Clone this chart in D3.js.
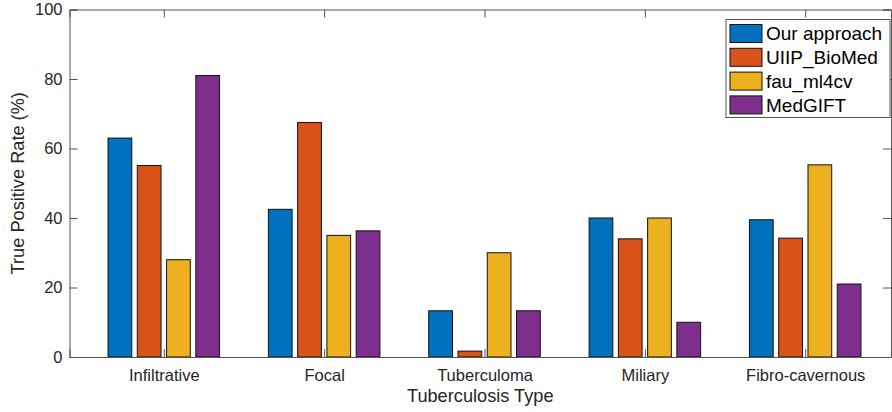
<!DOCTYPE html>
<html>
<head>
<meta charset="utf-8">
<script src="https://cdn.jsdelivr.net/npm/d3@7"></script>
<style>
  body { margin: 0; background: #fff; }
  svg { display: block; font-family: "Liberation Sans", Arial, sans-serif; }
</style>
</head>
<body>
<svg width="892" height="412"></svg>
<script>
// data
var categories = ["Infiltrative", "Focal", "Tuberculoma", "Miliary", "Fibro-cavernous"];
var methods = ["Our approach", "UIIP_BioMed", "fau_ml4cv", "MedGIFT"];
var ourApproach = [63.0, 42.5, 13.3, 40.0, 39.5];
var uiipBioMed  = [55.1, 67.5, 1.7, 34.0, 34.2];
var fauMl4cv    = [28.0, 35.0, 30.0, 40.0, 55.3];
var medGift     = [81.0, 36.3, 13.3, 10.0, 21.0];
var yTicks = [0, 20, 40, 60, 80, 100];
var colors = ["#0072BD", "#D95319", "#EDB120", "#7E2F8E"];

var series = [ourApproach, uiipBioMed, fauMl4cv, medGift];

var svg = d3.select("svg");
var pLeft = 69.5, pRight = 891, pTop = 9.5, pBottom = 357;

var x = d3.scaleLinear().domain([0.412, 5.535]).range([pLeft, pRight]);
var y = d3.scaleLinear().domain([0, 100]).range([pBottom, pTop]);

var step = 0.1825, barW = 0.148;

// bars
series.forEach(function(vals, j) {
  svg.append("g").selectAll("rect")
    .data(vals)
    .enter().append("rect")
    .attr("x", function(d, i) { return x(i + 1 + (j - 1.5) * step - barW / 2); })
    .attr("width", function(d, i) { return x(i + 1 + barW / 2) - x(i + 1 - barW / 2); })
    .attr("y", function(d) { return y(d); })
    .attr("height", function(d) { return y(0) - y(d); })
    .style("fill", colors[j])
    .style("stroke", "#111")
    .style("stroke-width", 1);
});

var axisColor = "#555";

// axes
var yAxis = d3.axisLeft(y).tickValues(yTicks).tickSize(-8).tickPadding(7);
var gy = svg.append("g").attr("transform", "translate(" + pLeft + ",0)").call(yAxis);
var yRight = d3.axisRight(y).tickValues(yTicks).tickSize(-8).tickFormat("");
var gyr = svg.append("g").attr("transform", "translate(" + pRight + ",0)").call(yRight);

var xIdx = d3.range(1, categories.length + 1);
var xAxis = d3.axisBottom(x).tickValues(xIdx).tickSize(-8).tickPadding(19)
  .tickFormat(function(d) { return categories[d - 1]; });
var gx = svg.append("g").attr("transform", "translate(0," + pBottom + ")").call(xAxis);
var xTop = d3.axisTop(x).tickValues(xIdx).tickSize(-8).tickFormat("");
var gxt = svg.append("g").attr("transform", "translate(0," + pTop + ")").call(xTop);

[gy, gyr, gx, gxt].forEach(function(g) {
  g.select(".domain").attr("stroke", axisColor).attr("stroke-width", 1);
  g.selectAll(".tick line").attr("stroke", axisColor).attr("stroke-width", 1);
  g.selectAll(".tick text").attr("fill", "#262626").style("font-size", "16.5px")
    .style("font-family", "'Liberation Sans', Arial, sans-serif");
});
gx.selectAll(".tick text").attr("dy", "0.32em");

// axis titles
svg.append("text")
  .attr("x", (pLeft + pRight) / 2).attr("y", 402)
  .attr("text-anchor", "middle")
  .style("font-size", "18.2px").style("fill", "#262626")
  .text("Tuberculosis Type");

svg.append("text")
  .attr("transform", "translate(24," + ((pTop + pBottom) / 2) + ") rotate(-90)")
  .attr("text-anchor", "middle")
  .style("font-size", "18.2px").style("fill", "#262626")
  .text("True Positive Rate (%)");

// legend
var lg = svg.append("g");
lg.append("rect")
  .attr("x", 726).attr("y", 19.5).attr("width", 164).attr("height", 98)
  .style("fill", "#fff").style("stroke", axisColor).style("stroke-width", 1);

var items = lg.selectAll("g.item").data(methods).enter().append("g")
  .attr("transform", function(d, i) { return "translate(730," + (24.5 + i * 23.8) + ")"; });
items.append("rect")
  .attr("width", 32).attr("height", 18)
  .style("fill", function(d, i) { return colors[i]; })
  .style("stroke", "#111").style("stroke-width", 1);
items.append("text")
  .attr("x", 36).attr("y", 9).attr("dy", "0.36em")
  .style("font-size", "19px").style("fill", "#000")
  .text(function(d) { return d; });
</script>
</body>
</html>
